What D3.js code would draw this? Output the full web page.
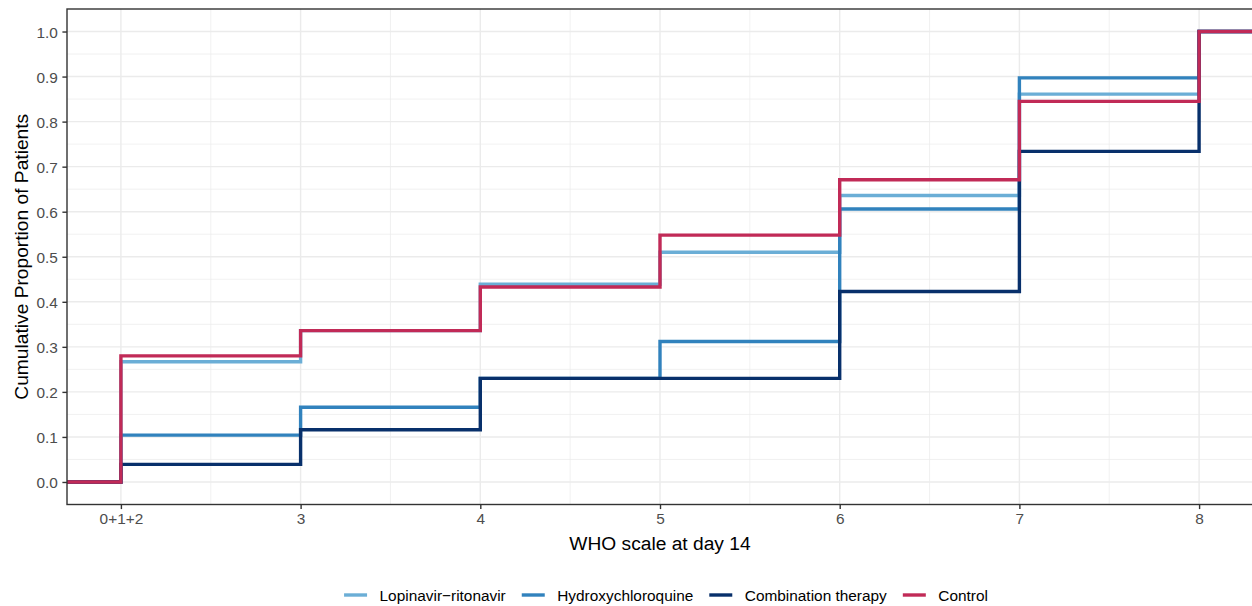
<!DOCTYPE html>
<html>
<head>
<meta charset="utf-8">
<script src="https://cdn.jsdelivr.net/npm/d3@7"></script>
<style>
  html, body { margin: 0; padding: 0; background: #fff; }
  svg { display: block; font-family: "Liberation Sans", Arial, sans-serif; }
</style>
</head>
<body>
<svg id="chart" width="1252" height="606"></svg>
<script>
const categories = ["0+1+2", "3", "4", "5", "6", "7", "8"];
const seriesNames = ["Lopinavir\u2212ritonavir", "Hydroxychloroquine", "Combination therapy", "Control"];
const lopinavir   = [0.267, 0.336, 0.439, 0.510, 0.636, 0.861, 1.0];
const hydroxy     = [0.104, 0.166, 0.230, 0.312, 0.606, 0.897, 1.0];
const combination = [0.039, 0.116, 0.230, 0.230, 0.423, 0.734, 1.0];
const control     = [0.280, 0.336, 0.433, 0.548, 0.671, 0.845, 1.0];
const colors = ["#6baed6", "#3182bd", "#08306b", "#c12a57"];
const yTicks = [0, 0.1, 0.2, 0.3, 0.4, 0.5, 0.6, 0.7, 0.8, 0.9, 1.0];

const seriesValues = [lopinavir, hydroxy, combination, control];

const FONT = "'Liberation Sans', Arial, sans-serif";
const svg = d3.select("#chart");
const panel = { left: 67, top: 9, right: 1253, bottom: 504.5 };

const x = d3.scaleLinear().domain([0.7, categories.length + 0.3]).range([panel.left, panel.right]);
const y = d3.scaleLinear().domain([-0.05, 1.05]).range([panel.bottom, panel.top]);

svg.append("rect").attr("x", panel.left).attr("y", panel.top)
  .attr("width", panel.right - panel.left).attr("height", panel.bottom - panel.top)
  .attr("fill", "#fff");

// minor grid
const gGrid = svg.append("g");
const yMinor = d3.range(0.05, 1.0, 0.1);
gGrid.selectAll(".ymin").data(yMinor).join("line")
  .attr("x1", panel.left).attr("x2", panel.right)
  .attr("y1", d => y(d)).attr("y2", d => y(d))
  .attr("stroke", "#ebebeb").attr("stroke-width", 0.7);
const xMinor = d3.range(1.5, categories.length, 1);
gGrid.selectAll(".xmin").data(xMinor).join("line")
  .attr("y1", panel.top).attr("y2", panel.bottom)
  .attr("x1", d => x(d)).attr("x2", d => x(d))
  .attr("stroke", "#ebebeb").attr("stroke-width", 0.7);
// major grid
gGrid.selectAll(".ymaj").data(yTicks).join("line")
  .attr("x1", panel.left).attr("x2", panel.right)
  .attr("y1", d => y(d)).attr("y2", d => y(d))
  .attr("stroke", "#ebebeb").attr("stroke-width", 1.4);
gGrid.selectAll(".xmaj").data(categories.map((c, i) => i + 1)).join("line")
  .attr("y1", panel.top).attr("y2", panel.bottom)
  .attr("x1", d => x(d)).attr("x2", d => x(d))
  .attr("stroke", "#ebebeb").attr("stroke-width", 1.4);

svg.append("clipPath").attr("id", "clip").append("rect")
  .attr("x", panel.left).attr("y", panel.top)
  .attr("width", panel.right - panel.left).attr("height", panel.bottom - panel.top);

const line = d3.line().x(d => x(d[0])).y(d => y(d[1])).curve(d3.curveStepAfter);
const gLines = svg.append("g").attr("clip-path", "url(#clip)");
seriesValues.forEach((vals, si) => {
  const pts = [[0.7, 0]];
  vals.forEach((v, i) => pts.push([i + 1, v]));
  pts.push([categories.length + 0.3, vals[vals.length - 1]]);
  gLines.append("path").datum(pts)
    .attr("d", line)
    .attr("fill", "none")
    .attr("stroke", colors[si])
    .attr("stroke-width", 3.4)
    .attr("stroke-linejoin", "miter")
    .attr("stroke-linecap", "butt");
});

// panel border
svg.append("rect").attr("x", panel.left).attr("y", panel.top)
  .attr("width", panel.right - panel.left).attr("height", panel.bottom - panel.top)
  .attr("fill", "none").attr("stroke", "#333333").attr("stroke-width", 1.4);

// Y axis
const yAxis = d3.axisLeft(y).tickValues(yTicks).tickFormat(d3.format(".1f")).tickSize(4.6).tickPadding(4.5);
const gy = svg.append("g").attr("transform", `translate(${panel.left},0)`).call(yAxis);
gy.attr("font-family", null).attr("font-size", null);
gy.select(".domain").remove();
gy.selectAll(".tick line").attr("stroke", "#333333").attr("stroke-width", 1.4);
gy.selectAll(".tick text").attr("fill", "#4d4d4d").attr("dy", "0.36em")
  .style("font-size", "15.4px").style("font-family", FONT);

// X axis
const xAxis = d3.axisBottom(x).tickValues(categories.map((c, i) => i + 1))
  .tickFormat((d, i) => categories[i]).tickSize(4.6).tickPadding(3.6);
const gx = svg.append("g").attr("transform", `translate(0,${panel.bottom})`).call(xAxis);
gx.attr("font-family", null).attr("font-size", null);
gx.select(".domain").remove();
gx.selectAll(".tick line").attr("stroke", "#333333").attr("stroke-width", 1.4);
gx.selectAll(".tick text").attr("fill", "#4d4d4d")
  .style("font-size", "15.4px").style("font-family", FONT);

// Axis titles
svg.append("text").attr("x", (panel.left + panel.right) / 2).attr("y", 550)
  .attr("text-anchor", "middle").attr("fill", "#000")
  .style("font-size", "19.2px").style("font-family", FONT)
  .text("WHO scale at day 14");
svg.append("text").attr("transform", `translate(28,${(panel.top + panel.bottom) / 2}) rotate(-90)`)
  .attr("text-anchor", "middle").attr("fill", "#000")
  .style("font-size", "19.2px").style("font-family", FONT)
  .text("Cumulative Proportion of Patients");

// Legend
const legY = 595;
const keyW = 23, gapKT = 12.5, gapTK = 16;
const gLeg = svg.append("g");
const widths = seriesNames.map(n => {
  const t = gLeg.append("text").style("font-size", "15.4px").style("font-family", FONT).text(n);
  const w = t.node().getComputedTextLength();
  t.remove();
  return w;
});
const total = d3.sum(widths) + seriesNames.length * (keyW + gapKT) + (seriesNames.length - 1) * gapTK;
let cx = 666 - total / 2;
seriesNames.forEach((n, i) => {
  gLeg.append("line").attr("x1", cx).attr("x2", cx + keyW)
    .attr("y1", legY).attr("y2", legY)
    .attr("stroke", colors[i]).attr("stroke-width", 3.4);
  gLeg.append("text").attr("x", cx + keyW + gapKT).attr("y", legY + 5.5)
    .attr("fill", "#000").style("font-size", "15.4px").style("font-family", FONT).text(n);
  cx += keyW + gapKT + widths[i] + gapTK;
});
</script>
</body>
</html>
